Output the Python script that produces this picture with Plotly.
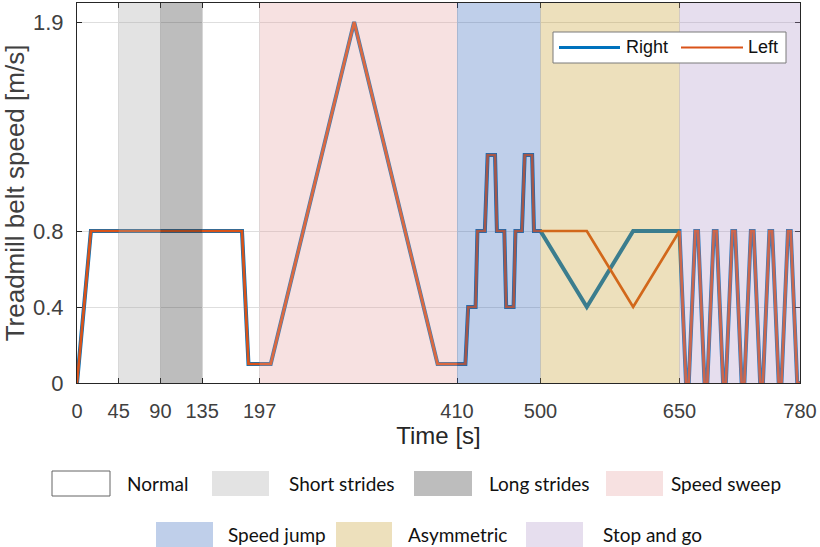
import plotly.graph_objects as go

# protocol phases (s)
phase_names = ["Normal", "Short strides", "Long strides", "Normal",
               "Speed sweep", "Speed jump", "Asymmetric", "Stop and go"]
phase_start = [0, 45, 90, 135, 197, 410, 500, 650]
phase_end = [45, 90, 135, 197, 410, 500, 650, 780]

x_ticks = [0, 45, 90, 135, 197, 410, 500, 650, 780]
y_ticks = [0, 0.4, 0.8, 1.9]

# belt speed profiles
t_right = [0, 15, 178, 185, 209, 299, 389, 419, 422, 430, 432, 440, 443, 451, 453,
           461, 463, 471, 473, 480, 483, 491, 493, 500, 550, 600, 650,
           657, 660, 667, 670, 677, 680, 687, 690, 697, 700, 707, 710,
           717, 720, 727, 730, 737, 740, 747, 750, 757, 760, 767, 770, 777, 780]
v_right = [0, 0.8, 0.8, 0.1, 0.1, 1.9, 0.1, 0.1, 0.4, 0.4, 0.8, 0.8, 1.2, 1.2, 0.8,
           0.8, 0.4, 0.4, 0.8, 0.8, 1.2, 1.2, 0.8, 0.8, 0.4, 0.8, 0.8,
           0, 0, 0.8, 0.8, 0, 0, 0.8, 0.8, 0, 0, 0.8, 0.8,
           0, 0, 0.8, 0.8, 0, 0, 0.8, 0.8, 0, 0, 0.8, 0.8, 0, 0]
t_left = [0, 15, 178, 185, 209, 299, 389, 419, 422, 430, 432, 440, 443, 451, 453,
          461, 463, 471, 473, 480, 483, 491, 493, 500, 550, 600, 650,
          657, 660, 667, 670, 677, 680, 687, 690, 697, 700, 707, 710,
          717, 720, 727, 730, 737, 740, 747, 750, 757, 760, 767, 770, 777, 780]
v_left = [0, 0.8, 0.8, 0.1, 0.1, 1.9, 0.1, 0.1, 0.4, 0.4, 0.8, 0.8, 1.2, 1.2, 0.8,
          0.8, 0.4, 0.4, 0.8, 0.8, 1.2, 1.2, 0.8, 0.8, 0.8, 0.4, 0.8,
          0, 0, 0.8, 0.8, 0, 0, 0.8, 0.8, 0, 0, 0.8, 0.8,
          0, 0, 0.8, 0.8, 0, 0, 0.8, 0.8, 0, 0, 0.8, 0.8, 0, 0]

# patch colours: translucent fill drawn over the lines, solid swatch for the key
patch_fill = {
    "Normal": "rgba(255,255,255,0)",
    "Short strides": "rgba(162,162,162,0.3)",
    "Long strides": "rgba(38,38,38,0.3)",
    "Speed sweep": "rgba(228,155,155,0.3)",
    "Speed jump": "rgba(42,95,185,0.3)",
    "Asymmetric": "rgba(195,152,32,0.3)",
    "Stop and go": "rgba(172,145,198,0.3)",
}
swatch = {
    "Normal": "#FFFFFF",
    "Short strides": "#E3E3E3",
    "Long strides": "#BDBDBD",
    "Speed sweep": "#F7E1E1",
    "Speed jump": "#BFCFEA",
    "Asymmetric": "#EDE0BC",
    "Stop and go": "#E6DEEE",
}
line_col = {"Right": "#0072BD", "Left": "#D95319"}

AX = "#262626"
W, H, L, T = 723, 380, 77, 3


def px(xp):
    return (xp - L) / W


def py(yp):
    return (H + T - yp) / H


fig = go.Figure()
fig.add_trace(go.Scatter(x=t_right, y=v_right, mode="lines", name="Right",
                         line=dict(color=line_col["Right"], width=4), showlegend=False))
fig.add_trace(go.Scatter(x=t_left, y=v_left, mode="lines", name="Left",
                         line=dict(color=line_col["Left"], width=2.7), showlegend=False))

for name, a, b in zip(phase_names, phase_start, phase_end):
    if name == "Normal":
        continue
    fig.add_shape(type="rect", xref="x", yref="y", x0=a, x1=b, y0=0, y1=2,
                  fillcolor=patch_fill[name], line_width=0, layer="above")

# line legend (top right, inside the axes)
fig.add_shape(type="rect", xref="paper", yref="paper", x0=px(553), x1=px(786),
              y0=py(32), y1=py(63), fillcolor="white", line=dict(color="#7A7A7A", width=1),
              layer="above")
for name, lx0, lx1, tx, w in [("Right", 559, 620, 624, 3), ("Left", 681, 743, 746, 2)]:
    fig.add_shape(type="line", xref="paper", yref="paper", x0=px(lx0), x1=px(lx1),
                  y0=py(47.5), y1=py(47.5), line=dict(color=line_col[name], width=w),
                  layer="above")
    fig.add_annotation(xref="paper", yref="paper", x=px(tx), y=py(47.5), text=name,
                       showarrow=False, xanchor="left", yanchor="middle",
                       font=dict(family="Liberation Sans, Arial", size=18, color="#111111"))

# key below the axes
key_order = ["Normal", "Short strides", "Long strides", "Speed sweep",
             "Speed jump", "Asymmetric", "Stop and go"]
key_box = [(52, 110), (212, 269), (414, 472), (606, 663),
           (156, 213), (336, 392), (526, 583)]
key_text = [157, 342, 539, 726, 277, 457, 652]
key_row = [0, 0, 0, 0, 1, 1, 1]
row_top = [471, 522]
for name, (bx0, bx1), tx, r in zip(key_order, key_box, key_text, key_row):
    y0 = py(row_top[r])
    y1 = py(row_top[r] + 25)
    fig.add_shape(type="rect", xref="paper", yref="paper",
                  x0=px(bx0), x1=px(bx1), y0=y0, y1=y1,
                  fillcolor=swatch[name],
                  line=dict(color="#646464", width=1) if name == "Normal" else dict(width=0))
    fig.add_annotation(xref="paper", yref="paper", x=px(tx), y=(y0 + y1) / 2,
                       text=name, showarrow=False, xanchor="center", yanchor="middle",
                       font=dict(family="Lato, Open Sans, sans-serif", size=19, color="#111111"))

fig.update_xaxes(range=[0, 780], tickvals=x_ticks, ticktext=[str(v) for v in x_ticks],
                 ticks="inside", ticklen=5, tickcolor=AX, showline=True, linecolor=AX,
                 linewidth=1, mirror="ticks", showgrid=True, gridcolor="#DEDEDE",
                 gridwidth=1, zeroline=False, ticklabelstandoff=10,
                 tickfont=dict(family="Liberation Sans, Arial", size=20, color="#404040"),
                 title=dict(text="Time [s]", standoff=6,
                            font=dict(family="Liberation Sans, Arial", size=24, color="#262626")))
fig.update_yaxes(range=[0, 2], tickvals=y_ticks, ticktext=["0", "0.4", "0.8", "1.9"],
                 ticks="inside", ticklen=5, tickcolor=AX, showline=True, linecolor=AX,
                 linewidth=1, mirror="ticks", showgrid=True, gridcolor="#DEDEDE",
                 gridwidth=1, zeroline=False, ticklabelstandoff=8,
                 tickfont=dict(family="Liberation Sans, Arial", size=22, color="#404040"),
                 title=dict(text="Treadmill belt speed [m/s]", standoff=6,
                            font=dict(family="Liberation Sans, Arial", size=26, color="#404040")))

fig.update_layout(
    width=820, height=547,
    margin=dict(l=77, r=20, t=3, b=164),
    plot_bgcolor="white", paper_bgcolor="white",
    showlegend=False,
)

fig.write_html("out.html", config={"displayModeBar": False},
               post_script="document.body.style.margin='0';")
